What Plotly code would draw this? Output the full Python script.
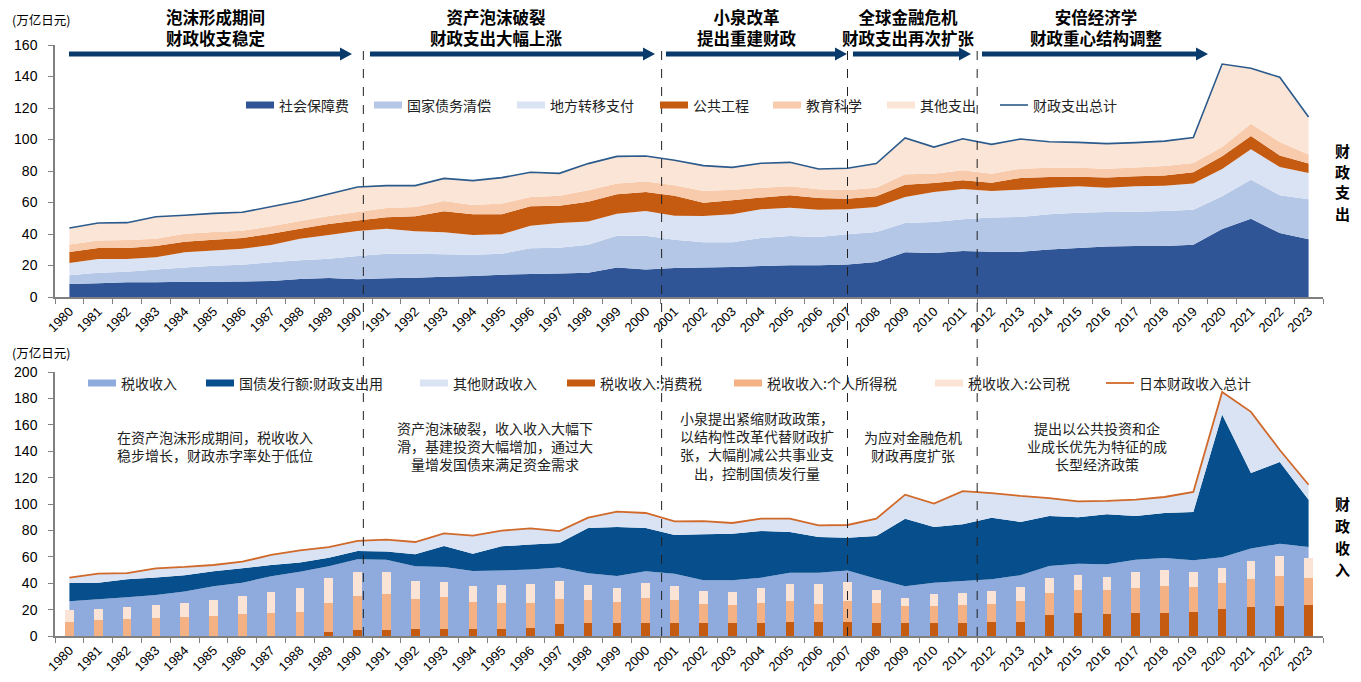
import plotly.graph_objects as go

# ---------------- data ----------------
years = [str(y) for y in range(1980, 2024)]

# 财政支出 (万亿日元)
social_security = [8.3, 8.7, 9.3, 9.3, 9.7, 9.7, 9.9, 10.2, 11.4, 12.1,
                   11.2, 11.9, 12.3, 12.9, 13.3, 14.2, 14.6, 15.0, 15.4, 18.8,
                   17.4, 18.4, 18.8, 19.0, 19.7, 20.1, 20.1, 20.7, 22.2, 28.4,
                   27.9, 29.2, 28.8, 28.8, 30.1, 31.1, 32.0, 32.4, 32.4, 33.2,
                   43.2, 49.7, 40.6, 36.6]
debt_service = [5.5, 6.7, 6.8, 8.1, 9.1, 10.2, 10.6, 11.8, 11.9, 12.2,
                14.8, 15.6, 15.2, 14.2, 13.6, 13.3, 16.3, 16.3, 17.8, 20.1,
                21.5, 18.0, 15.9, 15.7, 17.8, 18.6, 18.0, 19.1, 19.1, 18.6,
                19.7, 20.1, 21.6, 22.0, 22.4, 22.4, 22.0, 21.8, 22.2, 22.2,
                20.7, 24.8, 24.0, 25.4]
local_transfer = [7.8, 8.7, 8.0, 7.8, 9.6, 9.7, 10.2, 11.0, 13.7, 15.1,
                  15.9, 15.9, 14.2, 14.0, 12.5, 12.3, 14.4, 15.7, 14.8, 14.0,
                  15.7, 15.2, 16.7, 17.8, 18.2, 18.0, 17.3, 15.9, 15.8, 16.5,
                  19.1, 19.3, 16.9, 17.3, 16.9, 16.8, 15.4, 16.1, 16.1, 16.6,
                  17.4, 19.3, 17.9, 16.7]
public_works = [7.0, 7.0, 7.0, 7.2, 6.7, 6.8, 6.8, 7.2, 6.4, 6.9,
                6.6, 7.2, 9.5, 13.4, 13.1, 12.7, 12.3, 11.0, 12.5, 12.3,
                12.1, 12.7, 8.5, 8.9, 7.4, 7.9, 7.5, 6.7, 6.8, 7.8,
                5.7, 5.5, 5.3, 7.5, 6.8, 6.1, 6.4, 6.3, 6.5, 7.2,
                8.0, 8.4, 7.4, 6.0]
education_science = [4.8, 4.7, 5.1, 4.6, 5.1, 4.9, 4.6, 4.7, 4.9, 5.1,
                     5.5, 5.9, 5.9, 6.5, 5.9, 6.8, 5.9, 6.3, 7.2, 6.8,
                     6.7, 6.6, 7.4, 6.7, 6.3, 5.7, 5.5, 5.5, 5.5, 6.6,
                     5.9, 6.3, 5.7, 5.9, 5.9, 5.7, 5.7, 5.7, 6.0, 5.9,
                     5.9, 7.8, 8.5, 5.7]
other_expenditure = [10.4, 11.2, 11.0, 14.0, 11.7, 11.8, 11.7, 12.7, 12.7, 14.0,
                     15.8, 14.2, 13.6, 14.3, 15.5, 16.5, 15.7, 14.2, 17.0, 17.3,
                     16.1, 15.9, 16.1, 14.2, 15.5, 15.2, 12.9, 13.8, 15.3, 23.1,
                     16.9, 20.1, 18.6, 18.8, 16.5, 16.1, 15.9, 15.7, 15.8, 16.1,
                     52.7, 35.2, 41.1, 23.9]
total_expenditure = [43.8, 47.0, 47.2, 51.0, 51.9, 53.1, 53.8, 57.6, 61.0, 65.4,
                     69.8, 70.7, 70.7, 75.3, 73.9, 75.8, 79.2, 78.5, 84.7, 89.3,
                     89.5, 86.8, 83.4, 82.3, 84.9, 85.5, 81.3, 81.7, 84.7, 101.0,
                     95.2, 100.5, 96.9, 100.3, 98.6, 98.2, 97.4, 98.0, 99.0, 101.2,
                     147.9, 145.2, 139.5, 114.3]

# 财政收入 (万亿日元)
tax_revenue = [26.3, 27.8, 29.3, 31.1, 33.8, 37.6, 40.4, 45.2, 48.7, 52.8,
               58.1, 57.8, 52.8, 52.3, 49.2, 49.7, 50.3, 51.8, 47.5, 45.5,
               49.0, 47.2, 42.2, 42.2, 44.2, 48.0, 48.0, 49.7, 43.4, 37.6,
               40.4, 41.7, 42.9, 46.0, 53.0, 54.8, 54.3, 57.8, 59.1, 57.3,
               59.6, 66.2, 69.9, 67.4]
bond_issuance = [13.9, 12.6, 13.6, 13.3, 12.2, 11.4, 10.9, 8.6, 6.9, 6.5,
                 6.3, 6.3, 9.1, 15.9, 13.2, 18.2, 19.1, 18.7, 34.3, 37.1,
                 32.8, 29.3, 34.8, 35.3, 35.3, 30.8, 27.0, 24.8, 32.4, 51.3,
                 42.2, 42.9, 46.7, 40.4, 37.9, 35.1, 37.9, 33.1, 34.1, 36.6,
                 108.2, 57.3, 61.9, 35.9]
other_revenue = [4.0, 6.8, 4.8, 6.9, 6.3, 4.8, 5.0, 7.6, 9.3, 8.1,
                 7.6, 8.9, 9.3, 9.6, 13.6, 11.9, 12.2, 9.0, 7.8, 11.6,
                 11.4, 10.4, 10.1, 8.1, 9.4, 10.1, 8.8, 9.6, 13.1, 18.2,
                 17.7, 25.2, 18.7, 19.7, 13.6, 12.1, 10.1, 12.4, 12.1, 15.2,
                 17.0, 46.3, 9.1, 11.3]
total_revenue = [44.2, 47.2, 47.7, 51.3, 52.3, 53.8, 56.3, 61.4, 64.9, 67.4,
                 72.0, 73.0, 71.2, 77.8, 76.0, 79.8, 81.6, 79.5, 89.6, 94.2,
                 93.2, 86.9, 87.1, 85.6, 88.9, 88.9, 83.8, 84.1, 88.9, 107.1,
                 100.3, 109.8, 108.3, 106.1, 104.5, 102.0, 102.3, 103.3, 105.3, 109.1,
                 184.8, 169.8, 140.9, 114.6]
consumption_tax = [0, 0, 0, 0, 0, 0, 0, 0, 0, 3.0,
                   4.3, 4.8, 5.1, 5.3, 5.3, 5.6, 5.8, 9.1, 9.6, 10.1,
                   9.6, 9.6, 9.6, 9.6, 9.8, 10.6, 10.6, 10.4, 9.8, 9.8,
                   9.8, 10.1, 10.4, 10.9, 15.9, 17.2, 16.9, 17.2, 17.4, 17.9,
                   20.7, 22.0, 23.0, 23.2]
income_tax = [10.6, 11.9, 12.6, 13.6, 14.4, 15.4, 16.7, 17.4, 17.9, 21.7,
              26.3, 26.8, 23.2, 24.0, 20.5, 19.1, 18.9, 19.2, 17.4, 15.7,
              18.9, 17.7, 14.9, 14.1, 14.9, 15.7, 13.9, 15.9, 14.9, 12.9,
              13.2, 13.4, 13.8, 15.4, 16.7, 17.9, 17.9, 19.2, 20.2, 19.2,
              19.5, 21.2, 22.7, 21.0]
corporate_tax = [8.8, 8.8, 9.1, 9.6, 10.9, 11.9, 13.4, 15.7, 18.5, 19.0,
                 18.1, 16.6, 13.6, 11.9, 12.3, 14.2, 14.4, 13.4, 11.4, 10.8,
                 11.7, 10.3, 9.3, 9.9, 11.4, 12.8, 14.6, 14.4, 9.9, 6.3,
                 8.6, 9.3, 9.6, 10.6, 11.3, 10.9, 10.1, 11.8, 12.1, 11.1,
                 11.1, 13.4, 14.7, 14.9]

exp_names = ["社会保障费", "国家债务清偿", "地方转移支付", "公共工程", "教育科学", "其他支出"]
exp_total_name = "财政支出总计"
rev_area_names = ["税收收入", "国债发行额:财政支出用", "其他财政收入"]
rev_bar_names = ["税收收入:消费税", "税收收入:个人所得税", "税收收入:公司税"]
rev_total_name = "日本财政收入总计"

headers = [("泡沫形成期间", "财政收支稳定"), ("资产泡沫破裂", "财政支出大幅上涨"),
           ("小泉改革", "提出重建财政"), ("全球金融危机", "财政支出再次扩张"),
           ("安倍经济学", "财政重心结构调整")]
notes = [["在资产泡沫形成期间，税收收入", "稳步增长，财政赤字率处于低位"],
         ["资产泡沫破裂，收入收入大幅下", "滑，基建投资大幅增加，通过大", "量增发国债来满足资金需求"],
         ["小泉提出紧缩财政政策，", "以结构性改革代替财政扩", "张，大幅削减公共事业支", "出，控制国债发行量"],
         ["为应对金融危机", "财政再度扩张"],
         ["提出以公共投资和企", "业成长优先为特征的成", "长型经济政策"]]

# ---------------- styling ----------------
exp_colors = ["#2F5597", "#B4C7E7", "#DAE3F3", "#C55A11", "#F8CBAD", "#FBE5D6"]
exp_line_color = "#2B5A8C"
rev_area_colors = ["#8FAADC", "#074F8C", "#DAE3F3"]
rev_bar_colors = ["#C55A11", "#F4B183", "#FBE3D6"]
rev_line_color = "#D0692A"
arrow_color = "#0A3A6B"
axis_color = "#808080"
CJK = "Noto Sans CJK SC"
LAT = "Liberation Sans"

W, H = 1361, 682
ML, MR = 55, 38
PWD = W - ML - MR


def fx(px):
    return (px - ML) / PWD


def fy(py):
    return 1 - py / H


fig = go.Figure()

exp_series = [social_security, debt_service, local_transfer, public_works,
              education_science, other_expenditure]
for name, vals, col in zip(exp_names, exp_series, exp_colors):
    fig.add_trace(go.Scatter(x=years, y=vals, name=name, stackgroup="exp",
                             mode="none", fillcolor=col, xaxis="x", yaxis="y"))
fig.add_trace(go.Scatter(x=years, y=total_expenditure, name=exp_total_name, mode="lines",
                         line=dict(color=exp_line_color, width=1.6), xaxis="x", yaxis="y"))

rev_series = [tax_revenue, bond_issuance, other_revenue]
for name, vals, col in zip(rev_area_names, rev_series, rev_area_colors):
    fig.add_trace(go.Scatter(x=years, y=vals, name=name, stackgroup="rev",
                             mode="none", fillcolor=col, xaxis="x2", yaxis="y2"))
fig.add_trace(go.Scatter(x=years, y=total_revenue, name=rev_total_name, mode="lines",
                         line=dict(color=rev_line_color, width=1.8), xaxis="x2", yaxis="y2"))

bar_series = [consumption_tax, income_tax, corporate_tax]
for name, vals, col in zip(rev_bar_names, bar_series, rev_bar_colors):
    fig.add_trace(go.Bar(x=years, y=vals, name=name, marker=dict(color=col, line=dict(width=0)),
                         width=0.3, xaxis="x2", yaxis="y3"))

xcommon = dict(type="category", categoryorder="array", categoryarray=years,
               range=[-0.5, len(years) - 0.5], tickson="boundaries", ticks="outside",
               ticklen=5, tickcolor=axis_color, showline=True, linecolor=axis_color,
               linewidth=1.5, tickangle=-45, showgrid=False, zeroline=False,
               tickfont=dict(family=LAT, size=13, color="#000"))
ycommon = dict(ticks="outside", ticklen=5, tickcolor=axis_color, showline=True,
               linecolor=axis_color, linewidth=1.5, showgrid=False, zeroline=False,
               dtick=20, ticklabelstandoff=8,
               tickfont=dict(family=LAT, size=14, color="#000"))

shapes = []
annotations = []

# arrows in header
arrow_spans = [(69, 352), (370, 655), (666, 847), (853, 971), (982, 1208)]
yc = 54
for x0, x1 in arrow_spans:
    xh = x1 - 12
    pts = [(x0, yc - 2.5), (xh, yc - 2.5), (xh, yc - 6.5), (x1, yc), (xh, yc + 6.5),
           (xh, yc + 2.5), (x0, yc + 2.5)]
    path = "M " + " L ".join(f"{fx(a):.5f},{fy(b):.5f}" for a, b in pts) + " Z"
    shapes.append(dict(type="path", path=path, xref="paper", yref="paper",
                       fillcolor=arrow_color, line=dict(width=0), layer="above"))

header_centers = [215, 496, 747, 908, 1096]
for (l1, l2), cx in zip(headers, header_centers):
    annotations.append(dict(text=f"<b>{l1}</b><br><b>{l2}</b>", x=fx(cx), y=fy(28),
                            xref="paper", yref="paper", xanchor="center", yanchor="middle",
                            showarrow=False, align="center",
                            font=dict(family=CJK, size=16.5, color="#000")))

# period dashed separators (category-index positions)
period_breaks = [10.2, 20.55, 27.0, 31.5]
for xb in period_breaks:
    shapes.append(dict(type="line", xref="x", yref="paper", x0=xb, x1=xb, y0=fy(636), y1=fy(50),
                       line=dict(color="#222", width=1, dash="dash"), layer="above"))

# unit labels
for py in (20, 352):
    annotations.append(dict(text="(万亿日元)", x=fx(10), y=fy(py), xref="paper", yref="paper",
                            xanchor="left", yanchor="middle", showarrow=False,
                            font=dict(family=CJK, size=12.5, color="#000")))

# right side labels
for chars, ys in (("财政支出", [150, 171, 192, 214]), ("财政收入", [503, 525, 547, 569])):
    for ch, py in zip(chars, ys):
        annotations.append(dict(text=f"<b>{ch}</b>", x=fx(1343), y=fy(py), xref="paper", yref="paper",
                                xanchor="center", yanchor="middle", showarrow=False,
                                font=dict(family=CJK, size=15, color="#000")))


# legends (manual, positioned like the reference)
def legend_item(x0, py, name, color, kind="box"):
    if kind == "box":
        shapes.append(dict(type="rect", xref="paper", yref="paper", x0=fx(x0), x1=fx(x0 + 28),
                           y0=fy(py + 3.5), y1=fy(py - 3.5), fillcolor=color, line=dict(width=0)))
    else:
        shapes.append(dict(type="line", xref="paper", yref="paper", x0=fx(x0), x1=fx(x0 + 28),
                           y0=fy(py), y1=fy(py), line=dict(color=color, width=kind)))
    annotations.append(dict(text=name, x=fx(x0 + 31), y=fy(py), xref="paper", yref="paper",
                            xanchor="left", yanchor="middle", showarrow=False,
                            font=dict(family=CJK, size=14, color="#222")))


top_leg_x = [246, 374, 517, 660, 773, 887]
for x0, name, col in zip(top_leg_x, exp_names, exp_colors):
    legend_item(x0, 105, name, col)
legend_item(1000, 105, exp_total_name, exp_line_color, kind=1.6)

bot_leg_x = [88, 206, 420, 567, 734, 935]
for x0, name, col in zip(bot_leg_x, rev_area_names + rev_bar_names, rev_area_colors + rev_bar_colors):
    legend_item(x0, 383, name, col)
legend_item(1106, 383, rev_total_name, rev_line_color, kind=1.8)

# notes in lower chart
note_centers = [215, 495, 757, 913, 1097]
note_tops = [437, 428, 418, 437, 428]
for lines, cx, y0 in zip(notes, note_centers, note_tops):
    n = len(lines)
    ymid = y0 + (n - 1) * 18 / 2
    annotations.append(dict(text="<br>".join(lines), x=fx(cx), y=fy(ymid), xref="paper", yref="paper",
                            xanchor="center", yanchor="middle", showarrow=False, align="center",
                            font=dict(family=CJK, size=14, color="#222")))

fig.update_layout(
    width=W, height=H, margin=dict(l=ML, r=MR, t=0, b=0, autoexpand=False),
    paper_bgcolor="white", plot_bgcolor="white", showlegend=False,
    barmode="stack", template="none",
    xaxis=dict(domain=[0, 1], anchor="y", **xcommon),
    yaxis=dict(domain=[fy(297), fy(45)], range=[0, 160], anchor="x", **ycommon),
    xaxis2=dict(domain=[0, 1], anchor="y2", **xcommon),
    yaxis2=dict(domain=[fy(636), fy(372)], range=[0, 200], anchor="x2", **ycommon),
    yaxis3=dict(overlaying="y2", anchor="x2", range=[0, 200], visible=False, showgrid=False),
    shapes=shapes, annotations=annotations,
)

fig.write_html("out.html", config={"displayModeBar": False},
               post_script="document.body.style.margin='0';document.body.style.overflow='hidden';")
